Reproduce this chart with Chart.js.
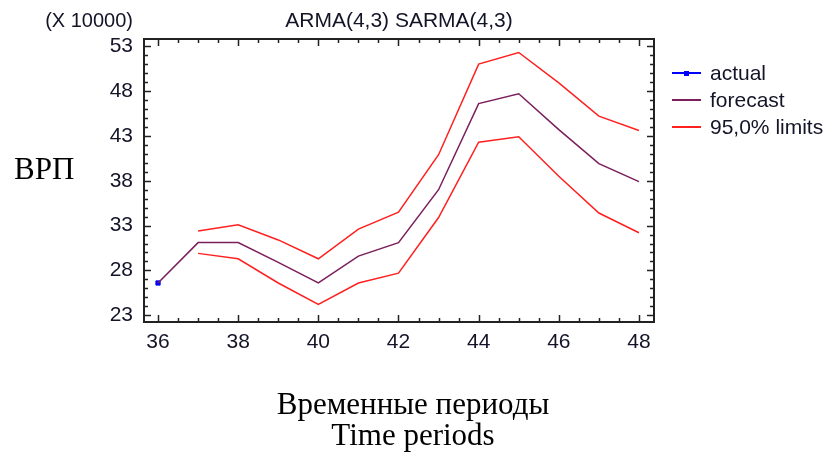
<!DOCTYPE html>
<html>
<head>
<meta charset="utf-8">
<script src="https://cdn.jsdelivr.net/npm/chart.js@4.4.0/dist/chart.umd.min.js"></script>
<style>
  html, body { margin: 0; padding: 0; background: #fff; }
  #wrap { position: relative; width: 827px; height: 452px; }
</style>
</head>
<body>
<div id="wrap"><canvas id="c" width="827" height="452"></canvas></div>
<script>
// values in units of 10000
const periods  = [36, 37, 38, 39, 40, 41, 42, 43, 44, 45, 46, 47, 48];
const actual   = [26.6];
const forecast = [26.6, 31.1, 31.1, 28.9, 26.6, 29.6, 31.1, 37.0, 46.6, 47.7, 43.7, 39.9, 37.9];
const upper    = [null, 32.4, 33.1, 31.4, 29.3, 32.6, 34.5, 40.9, 51.0, 52.3, 48.9, 45.2, 43.6];
const lower    = [null, 29.9, 29.3, 26.6, 24.2, 26.6, 27.7, 33.9, 42.3, 42.9, 38.5, 34.4, 32.2];
const xTicks   = [36, 38, 40, 42, 44, 46, 48];
const yTicks   = [23, 28, 33, 38, 43, 48, 53];

const sans = '"Liberation Sans", Arial, sans-serif';
const serif = '"Liberation Serif", "Times New Roman", serif';
const textColor = '#141428';

function pts(vals) {
  return vals.map((v, i) => ({ x: periods[i], y: v }));
}

const decor = {
  id: 'decor',
  afterDraw(chart) {
    const ctx = chart.ctx;
    const a = chart.chartArea;
    const xs = chart.scales.x, ys = chart.scales.y;
    ctx.save();
    // frame
    ctx.strokeStyle = '#222';
    ctx.lineWidth = 2;
    ctx.strokeRect(a.left, a.top, a.right - a.left, a.bottom - a.top);
    // ticks, inward on every side
    ctx.lineWidth = 1.5;
    ctx.beginPath();
    for (let v = 36; v <= 48; v += 0.5) {
      const len = (v % 2 === 0) ? 7 : 4;
      const px = Math.round(xs.getPixelForValue(v)) + 0.5;
      ctx.moveTo(px, a.bottom); ctx.lineTo(px, a.bottom - len);
      ctx.moveTo(px, a.top); ctx.lineTo(px, a.top + len);
    }
    for (let v = 23; v <= 53; v += 1) {
      const len = ((v - 23) % 5 === 0) ? 7 : 4;
      const py = Math.round(ys.getPixelForValue(v)) + 0.5;
      ctx.moveTo(a.left, py); ctx.lineTo(a.left + len, py);
      ctx.moveTo(a.right, py); ctx.lineTo(a.right - len, py);
    }
    ctx.stroke();

    // title and multiplier
    ctx.fillStyle = textColor;
    ctx.textBaseline = 'middle';
    ctx.font = '21px ' + sans;
    ctx.textAlign = 'center';
    ctx.fillText('ARMA(4,3) SARMA(4,3)', 399, 21);
    ctx.font = '20px ' + sans;
    ctx.textAlign = 'right';
    ctx.fillText('(X 10000)', 133, 21);

    // legend
    const items = [
      { label: 'actual', color: '#0000ff', dot: true },
      { label: 'forecast', color: '#7a1f5c' },
      { label: '95,0% limits', color: '#ff2020' }
    ];
    ctx.font = '21px ' + sans;
    ctx.textAlign = 'left';
    items.forEach((it, i) => {
      const y = 73 + i * 27;
      ctx.strokeStyle = it.color;
      ctx.lineWidth = 2;
      ctx.beginPath(); ctx.moveTo(672, y); ctx.lineTo(701, y); ctx.stroke();
      if (it.dot) { ctx.fillStyle = it.color; ctx.fillRect(684, y - 2, 5, 5); }
      ctx.fillStyle = textColor;
      ctx.fillText(it.label, 710, y + 1);
    });

    // axis titles
    ctx.fillStyle = '#000';
    ctx.font = '31px ' + serif;
    ctx.textAlign = 'left';
    ctx.fillText('ВРП', 14, 171);
    ctx.textAlign = 'center';
    ctx.fillText('Временные периоды', 413, 406);
    ctx.fillText('Time periods', 413, 437);
    ctx.restore();
  }
};

new Chart(document.getElementById('c').getContext('2d'), {
  type: 'line',
  data: {
    datasets: [
      { label: 'upper', data: pts(upper), borderColor: '#ff2020', borderWidth: 1.5, pointRadius: 0 },
      { label: 'lower', data: pts(lower), borderColor: '#ff2020', borderWidth: 1.5, pointRadius: 0 },
      { label: 'forecast', data: pts(forecast), borderColor: '#7a1f5c', borderWidth: 1.5, pointRadius: 0 },
      { label: 'actual', data: pts(actual), borderColor: '#0000ff', backgroundColor: '#0000ff',
        pointStyle: 'rect', pointRadius: 3, showLine: false }
    ]
  },
  options: {
    responsive: false,
    animation: false,
    devicePixelRatio: 1,
    layout: { padding: { top: 39, right: 173, left: 0, bottom: 0 } },
    plugins: { legend: { display: false }, title: { display: false }, tooltip: { enabled: false } },
    scales: {
      x: {
        type: 'linear', min: 35.65, max: 48.375,
        grid: { display: false, drawTicks: false }, border: { display: false },
        ticks: { font: { family: sans, size: 21 }, color: textColor, padding: 8 },
        afterBuildTicks: s => { s.ticks = xTicks.map(v => ({ value: v })); },
        afterFit: s => { s.height = 130; }
      },
      y: {
        type: 'linear', min: 22.25, max: 53.8,
        grid: { display: false, drawTicks: false }, border: { display: false },
        ticks: { font: { family: sans, size: 21 }, color: textColor, padding: 11 },
        afterBuildTicks: s => { s.ticks = yTicks.map(v => ({ value: v })); },
        afterFit: s => { s.width = 144; }
      }
    }
  },
  plugins: [decor]
});
</script>
</body>
</html>
